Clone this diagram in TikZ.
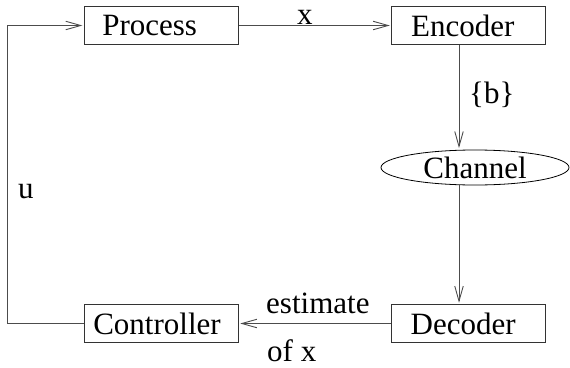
\documentclass[tikz,border=0pt]{standalone}
\usepackage{fontspec}
\setmainfont{Liberation Serif}
\usetikzlibrary{arrows.meta,shapes.geometric}

\tikzset{
  block/.style={draw=black!80, line width=0.9pt, rectangle, inner sep=0pt,
    minimum width=154pt, minimum height=37.6pt},
  oval/.style={draw=black, line width=0.8pt, ellipse, inner sep=0pt,
    minimum width=188pt, minimum height=35pt},
  flow/.style={draw=black!70, line width=0.9pt,
    -{Straight Barb[length=15pt,width=8.5pt,line width=0.9pt]}, shorten >=1.5pt},
  lbl/.style={inner sep=0pt, anchor=base west},
}
% block text, set flush left after a given indent
\newcommand{\padtext}[2]{\makebox[154pt][l]{\hspace{#1}#2}}

\begin{document}
\begin{tikzpicture}[x=1pt, y=-1pt, font=\fontsize{31}{37}\selectfont]
  \useasboundingbox (0,0) rectangle (570,367);

  % blocks
  \node[block] (proc) at (161.3,25.5)  {\padtext{18pt}{Process}};
  \node[block] (enc)  at (468.7,25.5)  {\padtext{19.5pt}{Encoder}};
  \node[oval]  (chan) at (475,167.5)   {Channel\hspace{6.6pt}};
  \node[block] (dec)  at (468.7,323.5) {\padtext{19pt}{Decoder}};
  \node[block] (ctrl) at (161.3,323.5) {\padtext{9pt}{Controller}};

  % feedback path corners
  \coordinate (fbtop) at (7.5,25.5);
  \coordinate (fbbot) at (7.5,323.5);

  % connectors
  \draw[flow] (proc) -- (enc);
  \draw[flow] ([xshift=-9.7pt]enc.south) -- ([xshift=-9.7pt]enc.south |- chan.north);
  \draw[flow] ([xshift=-9.7pt]dec.north |- chan.south) -- ([xshift=-9.7pt]dec.north);
  \draw[flow] (dec) -- (ctrl);
  \draw[flow] (ctrl.west) -- (fbbot) -- (fbtop) -- (proc.west);

  % signal labels
  \node[lbl] (xlab) at (297,24.5)  {x};
  \node[lbl] (blab) at (469,103)   {\{b\}};
  \node[lbl] (ulab) at (18,198)    {u};
  \node[lbl] (est)  at (266,313)   {estimate};
  \node[lbl] (ofx)  at (267,361.5) {of x};
\end{tikzpicture}
\end{document}
